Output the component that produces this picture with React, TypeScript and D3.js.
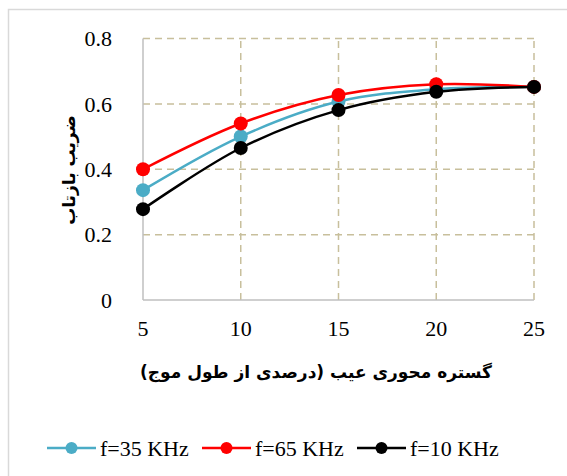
import React from "react";
import * as d3 from "d3";

const xValues = [5, 10, 15, 20, 25];
const f35 = [0.336, 0.5, 0.607, 0.645, 0.652];
const f65 = [0.4, 0.54, 0.627, 0.66, 0.652];
const f10 = [0.278, 0.465, 0.581, 0.637, 0.652];
const yTicks = [0, 0.2, 0.4, 0.6, 0.8];
const seriesNames = ["f=35 KHz", "f=65 KHz", "f=10 KHz"];
const seriesColors = ["#4BACC6", "#FF0000", "#000000"];
const xTitle = "گستره محوری عیب (درصدی از طول موج)";
const yTitle = "ضریب بازتاب";

export default function App() {
  const W = 567, H = 476;
  const x = d3.scaleLinear().domain([5, 25]).range([143, 534]);
  const y = d3.scaleLinear().domain([0, 0.8]).range([300, 38.5]);
  const line = d3
    .line<number>()
    .x((_, i) => x(xValues[i]))
    .y((d) => y(d))
    .curve(d3.curveCatmullRom.alpha(0.5));
  const series = [f35, f65, f10];
  const serif = "'Liberation Serif', 'Times New Roman', serif";
  const legendX = [47, 202, 357];
  const grid = "#C8BF9C";
  return (
    <svg width={W} height={H} style={{ position: "absolute", left: 0, top: 0 }}>
      <rect x={0} y={0} width={W} height={H} fill="#fff" />
      <rect x={8.5} y={9.5} width={700} height={700} fill="none" stroke="#D9D9D9" strokeWidth={1.5} />
      {yTicks.slice(1).map((t) => (
        <line key={"h" + t} x1={x(5)} x2={x(25)} y1={y(t)} y2={y(t)} stroke={grid} strokeWidth={1.5} strokeDasharray="7,5" />
      ))}
      {xValues.slice(1).map((v) => (
        <line key={"v" + v} x1={x(v)} x2={x(v)} y1={y(0)} y2={y(0.8)} stroke={grid} strokeWidth={1.5} strokeDasharray="7,5" />
      ))}
      <line x1={x(5)} x2={x(5)} y1={y(0)} y2={y(0.8)} stroke="#BFBFBF" strokeWidth={1.5} />
      <line x1={x(5)} x2={x(25)} y1={y(0)} y2={y(0)} stroke="#BFBFBF" strokeWidth={1.5} />
      {yTicks.map((t) => (
        <text key={"yt" + t} x={112} y={y(t)} dy="0.35em" textAnchor="end" fontFamily={serif} fontSize={22} fill="#000">
          {t === 0 ? "0" : t.toFixed(1)}
        </text>
      ))}
      {xValues.map((v) => (
        <text key={"xt" + v} x={x(v)} y={336} textAnchor="middle" fontFamily={serif} fontSize={22} fill="#000">
          {v}
        </text>
      ))}
      {series.map((s, i) => (
        <g key={"s" + i}>
          <path d={line(s) || ""} fill="none" stroke={seriesColors[i]} strokeWidth={2.5} />
          {s.map((d, j) => (
            <circle key={j} cx={x(xValues[j])} cy={y(d)} r={7} fill={seriesColors[i]} />
          ))}
        </g>
      ))}
      <text
        transform={`translate(75,170) rotate(-90)`}
        textAnchor="middle"
        fontFamily="'DejaVu Sans', sans-serif"
        fontWeight="bold"
        fontSize={17}
        direction="rtl"
        fill="#000"
      >
        {yTitle}
      </text>
      <text x={316} y={378} textAnchor="middle" fontFamily="'DejaVu Sans', sans-serif" fontWeight="bold" fontSize={17} direction="rtl" fill="#000">
        {xTitle}
      </text>
      {seriesNames.map((n, i) => (
        <g key={"l" + i}>
          <line x1={legendX[i]} x2={legendX[i] + 49} y1={448} y2={448} stroke={seriesColors[i]} strokeWidth={2.5} />
          <circle cx={legendX[i] + 24.5} cy={448} r={6} fill={seriesColors[i]} />
          <text x={legendX[i] + 53} y={448} dy="0.35em" fontFamily={serif} fontSize={22} fill="#000">
            {n}
          </text>
        </g>
      ))}
    </svg>
  );
}
